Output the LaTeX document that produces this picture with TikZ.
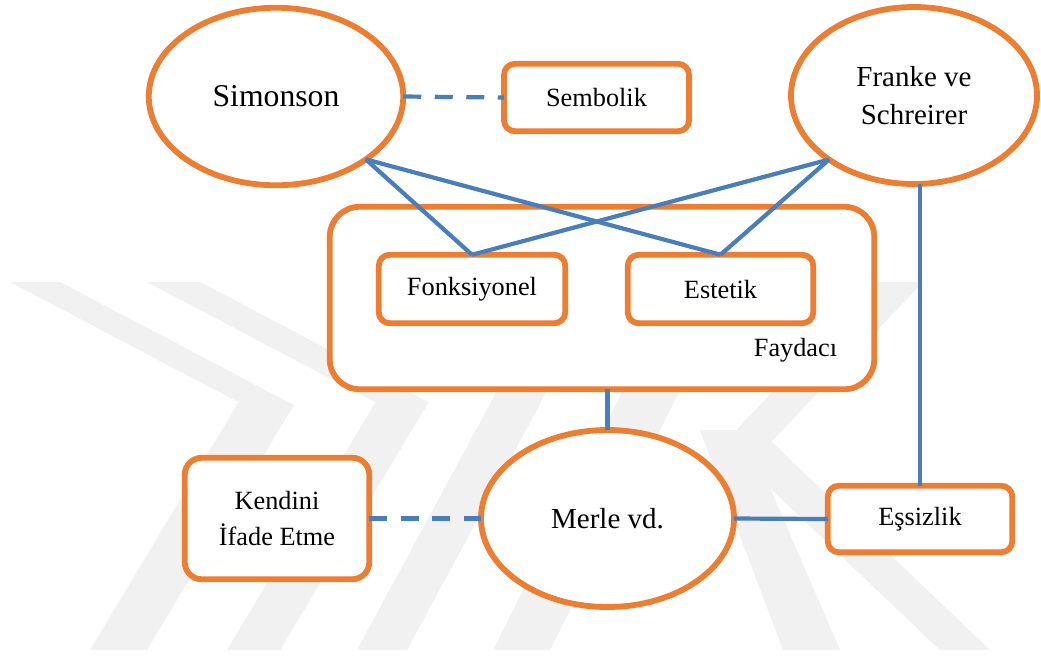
\documentclass[tikz,border=0pt]{standalone}
\usepackage{fontspec}
\setmainfont{Liberation Serif}
\usetikzlibrary{shapes.geometric}
\definecolor{frame}{HTML}{ED7D31}
\definecolor{link}{HTML}{4A7EBB}
\definecolor{mark}{HTML}{F1F1F1}
\newcommand{\smalltext}{\fontsize{26.3}{35.7}\selectfont}
\newcommand{\midtext}{\fontsize{29}{38}\selectfont}
\newcommand{\bigtext}{\fontsize{31.7}{38}\selectfont}
\begin{document}
\begin{tikzpicture}[x=1pt,y=-1pt,
  oval/.style={ellipse, draw=frame, line width=5.8pt, fill=white,
    inner sep=0pt, outer sep=0pt, align=center},
  rbox/.style={rectangle, rounded corners=11pt, draw=frame, line width=5.8pt,
    fill=white, inner sep=0pt, outer sep=0pt, align=center, font=\smalltext},
  lnk/.style={draw=link, line width=4.2pt},
  dlnk/.style={lnk, dash pattern=on 18pt off 13.5pt},
  wm/.style={fill=mark, draw=none}]

\useasboundingbox (0,0) rectangle (1041,657);
\fill[white] (0,0) rectangle (1041,657);

% faint background emblem
\fill[wm] (10,282) -- (60,282) -- (293.9,405.1) -- (147,650) -- (90,650) -- (238.6,402.3) -- cycle;
\fill[wm] (147,282) -- (200,282) -- (428.6,402.3) -- (280,650) -- (227,650) -- (375.6,402.3) -- cycle;
\fill[wm] (503,380) -- (553,380) -- (407,650) -- (357,650) -- cycle;
\fill[wm] (628,380) -- (685,380) -- (550,650) -- (493,650) -- cycle;
\fill[wm] (877,282) -- (923,282) -- (771.4,441.7) -- (990,650) -- (940,650) -- (723.3,443.7) -- cycle;
\fill[wm] (700,430) -- (745,430) -- (840,650) -- (783,650) -- cycle;

% utilitarian group
\node[rbox, rounded corners=30pt, minimum width=544.5pt, minimum height=182.5pt] (fay) at (602,298) {};
\node[anchor=base, font=\smalltext, inner sep=0pt] (faylbl) at (795.5,356.7) {Faydacı};
\node[rbox, minimum width=186.5pt, minimum height=68.5pt] (fonk) at (472,289) {Fonksiyonel};
\node[rbox, minimum width=185.5pt, minimum height=68.5pt] (est) at (720.5,289) {Estetik};

% authors
\node[oval, font=\bigtext, minimum width=254.5pt, minimum height=177.5pt] (sim) at (276,96.5) {\raisebox{-3pt}{Simonson}};
\node[oval, font=\midtext, minimum width=246pt, minimum height=177pt] (fr) at (914,95.5) {Franke ve\\Schreirer};
\node[oval, font=\midtext, minimum width=253pt, minimum height=177pt] (mer) at (607.5,518.5) {Merle vd.};

% other dimensions
\node[rbox, minimum width=185pt, minimum height=67.5pt] (sem) at (596.5,97.5) {Sembolik};
\node[rbox, rounded corners=17pt, minimum width=184.5pt, minimum height=121.5pt] (ken) at (277,518.5) {Kendini\\İfade Etme};
\node[rbox, minimum width=184.5pt, minimum height=66.5pt] (es) at (920,519) {Eşsizlik};

% connectors
\draw[dlnk] (sim.east) -- (sem.west);
\draw[lnk] (sim.-35) -- (fonk.north);
\draw[lnk] (sim.-35) -- (est.north);
\draw[lnk] (fr.-143) -- (fonk.north);
\draw[lnk] (fr.-143) -- (est.north);
\draw[lnk] (mer.north) -- (mer.north |- fay.south);
\draw[lnk] (es.north) -- (es.north |- fr.south);
\draw[dlnk] (ken.east) -- (mer.west);
\draw[lnk] (mer.east) -- (es.west);
\end{tikzpicture}
\end{document}
